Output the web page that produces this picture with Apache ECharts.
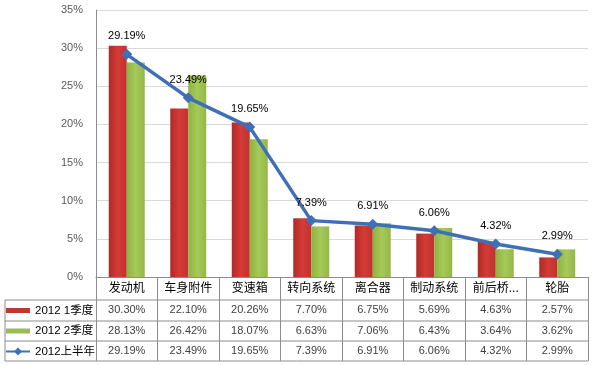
<!DOCTYPE html>
<html><head><meta charset="utf-8">
<script src="https://cdn.jsdelivr.net/npm/echarts@6/dist/echarts.min.js"></script>
<style>html,body{margin:0;padding:0;background:#fff}#c{width:592px;height:365px}</style>
</head><body><div id="c"></div>
<script>
const categories = ['发动机','车身附件','变速箱','转向系统','离合器','制动系统','前后桥...','轮胎'];
const q1 = [30.30,22.10,20.26,7.70,6.75,5.69,4.63,2.57];
const q2 = [28.13,26.42,18.07,6.63,7.06,6.43,3.64,3.62];
const h1 = [29.19,23.49,19.65,7.39,6.91,6.06,4.32,2.99];
const seriesNames = ['2012 1季度','2012 2季度','2012上半年'];
const yMin = 0, yMax = 35, yInterval = 5;

const FONT = '"Liberation Sans","Noto Sans CJK SC",sans-serif';
const GL = 96, GR = 4, GT = 10, GB = 88, W = 592, H = 365;
const tableLeft = 5;
const rowLines = [300, 321, 341, 361];
const borderColor = '#8c8c8c';

const fmt = v => v.toFixed(2) + '%';
const redGrad = new echarts.graphic.LinearGradient(0,0,1,0,[
  {offset:0,color:'#B02A27'},{offset:0.5,color:'#D43B37'},{offset:1,color:'#C0322F'}]);
const greenGrad = new echarts.graphic.LinearGradient(0,0,1,0,[
  {offset:0,color:'#8DB33E'},{offset:0.5,color:'#A6C95A'},{offset:1,color:'#94B847'}]);
const barIcon = 'path://M0,0h0.05v0.05h-0.05zM0,2.5h24v5h-24zM0,9.95h0.05v0.05h-0.05z';

const graphics = [];
rowLines.forEach(y => graphics.push({type:'line', shape:{x1:tableLeft,y1:y,x2:W-GR,y2:y}, style:{stroke:borderColor,lineWidth:1}, silent:true}));
graphics.push({type:'line', shape:{x1:tableLeft,y1:rowLines[0],x2:tableLeft,y2:rowLines[3]}, style:{stroke:borderColor,lineWidth:1}, silent:true});

const chart = echarts.init(document.getElementById('c'));
chart.setOption({
  animation:false,
  textStyle:{fontFamily:FONT},
  grid:{left:GL,right:GR,top:GT,bottom:GB,containLabel:false},
  legend:{
    orient:'vertical', left:tableLeft, top:300.5, padding:0, itemGap:0.5,
    itemWidth:24, itemHeight:10,
    textStyle:{fontSize:11.5,color:'#000',lineHeight:20,fontFamily:FONT},
    data:[
      {name:seriesNames[0], icon:barIcon, itemStyle:{color:'#C0392F'}},
      {name:seriesNames[1], icon:barIcon, itemStyle:{color:'#9BBB59'}},
      {name:seriesNames[2]}
    ]
  },
  xAxis:{
    type:'category', data:categories, boundaryGap:true,
    axisLine:{show:true,lineStyle:{color:borderColor,width:1}},
    axisTick:{show:true,interval:0,length:rowLines[3]-(H-GB),lineStyle:{color:borderColor}},
    axisLabel:{
      interval:0, margin:0,
      formatter:(v,i)=>`{c|${v}}\n{v|${fmt(q1[i])}}\n{v|${fmt(q2[i])}}\n{v|${fmt(h1[i])}}`,
      rich:{
        c:{fontSize:12,color:'#000',lineHeight:23,fontFamily:FONT},
        v:{fontSize:11,color:'#404040',lineHeight:20.5,fontFamily:FONT}
      }
    }
  },
  yAxis:{
    type:'value', min:yMin, max:yMax, interval:yInterval,
    axisLine:{show:true,lineStyle:{color:borderColor}},
    axisTick:{show:false},
    axisLabel:{formatter:'{value}%',fontSize:11,color:'#595959',margin:13},
    splitLine:{lineStyle:{color:'#D9D9D9'}}
  },
  series:[
    {name:seriesNames[0],type:'bar',data:q1,barWidth:18,barGap:'0%',itemStyle:{color:redGrad}},
    {name:seriesNames[1],type:'bar',data:q2,barWidth:18,barGap:'0%',itemStyle:{color:greenGrad}},
    {name:seriesNames[2],type:'line',data:h1,symbol:'diamond',symbolSize:11,
     lineStyle:{color:'#3F6FB5',width:3.5},itemStyle:{color:'#3F6FB5'},
     label:{show:true,position:'top',distance:7,formatter:p=>fmt(p.value),fontSize:11,color:'#000',fontFamily:FONT},
     z:5}
  ],
  graphic:graphics
});
</script></body></html>
